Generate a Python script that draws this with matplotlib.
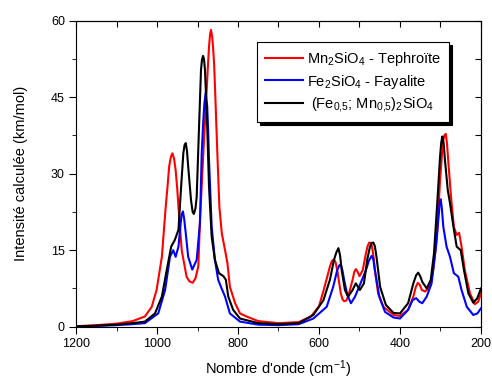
import matplotlib
matplotlib.use("Agg")
import matplotlib.pyplot as plt
from matplotlib.ticker import MultipleLocator

plt.rcParams['font.family'] = ['Liberation Sans', 'DejaVu Sans']
plt.rcParams['mathtext.default'] = 'regular'

# Mn2SiO4 - Tephroite (red)
mn_x = [1200, 1150, 1100, 1060, 1030, 1013, 1001, 988, 978.5, 974, 970, 966, 962, 958, 954, 950, 947, 939,
        927, 920, 912, 905, 898, 893.8, 885.6, 877, 874, 871.6, 869, 866.7, 864, 861.7, 859, 856.8, 851, 846,
        840, 832, 826, 820, 807, 795, 779, 750, 700, 650, 620, 600, 589, 573, 568, 563, 559, 555, 546, 542,
        538, 533, 528, 517, 513, 509, 505, 500, 492, 484, 480, 476, 472, 469, 465, 462, 454, 441, 416, 400,
        380, 367, 361, 356, 351, 346, 338, 326, 318, 309, 301, 297, 293, 290, 287, 284, 281, 274, 267, 260,
        254, 248, 240, 227, 215, 207, 200]
mn_y = [0.1, 0.3, 0.6, 1.1, 2.0, 3.9, 7.2, 13.7, 23.5, 27.5, 31.4, 33.2, 34.0, 33.0, 30.7, 27.0, 23.5, 15.0,
        9.8, 8.9, 8.6, 9.5, 11.8, 20.9, 34.0, 47.0, 51.5, 54.9, 57.3, 58.2, 57.0, 54.9, 51.5, 47.0, 34.0, 23.5,
        18.3, 15.0, 12.4, 7.8, 4.6, 2.6, 2.0, 1.1, 0.7, 0.9, 2.0, 4.0, 7.0, 11.8, 12.9, 13.2, 12.6, 11.1, 6.5, 5.4,
        5.0, 5.1, 5.9, 9.2, 10.7, 11.3, 10.8, 9.9, 11.1, 14.4, 15.8, 16.5, 16.4, 15.7, 13.5, 11.1, 6.5, 3.9, 2.3, 2.1,
        3.3, 5.9, 7.8, 8.6, 8.2, 7.2, 6.9, 7.8, 11.1, 17.6, 28.8, 33.0, 36.6, 37.6, 37.8, 36.0, 32.7, 25.5, 19.6, 18.0,
        18.4, 15.7, 11.1, 6.5, 4.4, 4.9, 6.5]

# Fe2SiO4 - Fayalite (blue)
fe_x = [1200, 1150, 1100, 1060, 1030, 997, 980, 968, 960, 954, 947, 941.5, 939, 936, 933, 929, 923, 913, 902,
        894, 889.6, 886, 883, 880, 876, 873.5, 871.6, 865, 857, 849, 842, 832, 820, 795, 750, 700, 650, 614,
        581, 565, 555, 550, 546, 542, 538, 530, 521, 511, 499, 484, 477, 470, 466, 462, 451, 437, 416, 400,
        380, 369, 360, 352, 345, 334, 322, 311, 304, 302, 299.5, 297, 293, 285, 276.5, 267, 256, 248, 235,
        219, 209, 200]
fe_y = [0.05, 0.15, 0.3, 0.5, 0.7, 2.6, 7.2, 13.7, 15.0, 13.7, 15.7, 20.3, 22.0, 22.6, 21.2, 18.3, 13.7, 11.2, 13.1,
        20.3, 34.0, 40.0, 43.8, 45.8, 43.2, 38.0, 32.7, 19.6, 13.1, 9.2, 7.8, 5.9, 2.6, 1.0, 0.4, 0.3, 0.5, 1.6,
        3.9, 7.8, 11.1, 12.0, 12.2, 11.0, 9.2, 6.2, 4.6, 5.9, 8.2, 11.1, 12.9, 13.9, 13.3, 11.1, 5.9, 2.9, 1.8, 1.6,
        3.3, 5.2, 5.6, 4.9, 4.6, 5.9, 8.5, 15.7, 22.2, 24.3, 25.0, 23.5, 19.6, 15.7, 13.7, 10.5, 9.8, 7.2, 3.9,
        2.3, 2.6, 3.6]

# (Fe0,5; Mn0,5)2SiO4 (black)
mix_x = [1200, 1150, 1100, 1060, 1030, 1005, 988, 976, 965, 956, 947, 941, 935, 932, 929, 926, 923, 916, 912,
         909, 905, 902, 898, 891.4, 889, 886.4, 884, 881.5, 876.5, 871.6, 865, 857, 847, 836, 830, 824, 812,
         795, 750, 700, 650, 614, 589, 573, 563, 557, 552, 548, 544, 536, 528, 517, 509, 499, 489, 481, 474,
         470, 466, 462, 458, 449, 435, 416, 400, 380, 367, 360, 355, 350, 345, 334, 324, 316, 308, 301, 298,
         295.5, 292, 289, 282, 276.5, 268, 260, 250, 242, 231, 219, 209, 200]
mix_y = [0.05, 0.2, 0.4, 0.7, 1.0, 2.6, 5.9, 11.1, 15.7, 17.0, 19.0, 26.8, 34.0, 35.6, 36.0, 34.5, 31.4, 24.8, 22.5,
         22.1, 23.2, 25.5, 35.0, 50.3, 52.3, 53.1, 52.5, 50.3, 40.5, 27.5, 17.6, 13.1, 10.5, 9.9, 9.2, 5.9, 3.3,
         1.6, 0.7, 0.5, 0.7, 2.3, 5.2, 9.2, 13.1, 14.6, 15.4, 14.0, 11.1, 7.2, 5.9, 7.2, 8.5, 7.2, 8.5, 13.1, 15.7,
         16.4, 16.5, 15.8, 13.7, 7.8, 4.3, 2.7, 2.6, 4.6, 8.5, 10.1, 10.6, 9.9, 8.8, 7.5, 9.2, 14.4, 24.2, 33.4, 36.2,
         37.3, 35.8, 32.7, 26.8, 24.2, 19.6, 15.7, 15.0, 11.1, 6.5, 4.7, 5.6, 7.5]

labels = [r'Mn$_2$SiO$_4$ - Tephroïte',
          r'Fe$_2$SiO$_4$ - Fayalite',
          r' (Fe$_{0{,}5}$; Mn$_{0{,}5}$)$_2$SiO$_4$']

fig = plt.figure(figsize=(4.92, 3.79), dpi=100)
ax = fig.add_axes([0.1545, 0.138, 0.8231, 0.8074])

ax.plot(mn_x, mn_y, color='#ff0000', lw=1.5, label=labels[0])
ax.plot(fe_x, fe_y, color='#0000ff', lw=1.5, label=labels[1])
ax.plot(mix_x, mix_y, color='black', lw=1.5, label=labels[2])

ax.set_xlim(1200, 200)
ax.set_ylim(0, 60)
ax.xaxis.set_major_locator(MultipleLocator(200))
ax.xaxis.set_minor_locator(MultipleLocator(100))
ax.yaxis.set_major_locator(MultipleLocator(15))
ax.yaxis.set_minor_locator(MultipleLocator(7.5))
ax.tick_params(which='both', direction='out', labelsize=9, pad=3)
ax.tick_params(which='major', length=5)
ax.tick_params(which='minor', length=3)

# inward ticks on top and right
top = ax.secondary_xaxis('top')
top.xaxis.set_major_locator(MultipleLocator(100))
top.tick_params(direction='in', length=4, labeltop=False)
right = ax.secondary_yaxis('right')
right.yaxis.set_major_locator(MultipleLocator(7.5))
right.tick_params(direction='in', length=4, labelright=False)

ax.set_xlabel("Nombre d'onde (cm$^{-1}$)", fontsize=10.5)
ax.set_ylabel('Intensité calculée (km/mol)', fontsize=10.5)
ax.xaxis.set_label_coords(0.5, -0.103)
ax.yaxis.set_label_coords(-0.118, 0.5)

leg = ax.legend(loc='upper right', bbox_to_anchor=(0.921, 0.93), fontsize=10.5, frameon=True,
                fancybox=False, edgecolor='black', framealpha=1,
                shadow={'color': 'black', 'alpha': 1}, handlelength=2.6, handletextpad=0.25,
                labelspacing=0.3, borderpad=0.55, borderaxespad=0)
leg.get_frame().set_linewidth(0.8)

fig.savefig('out.png', dpi=100)
